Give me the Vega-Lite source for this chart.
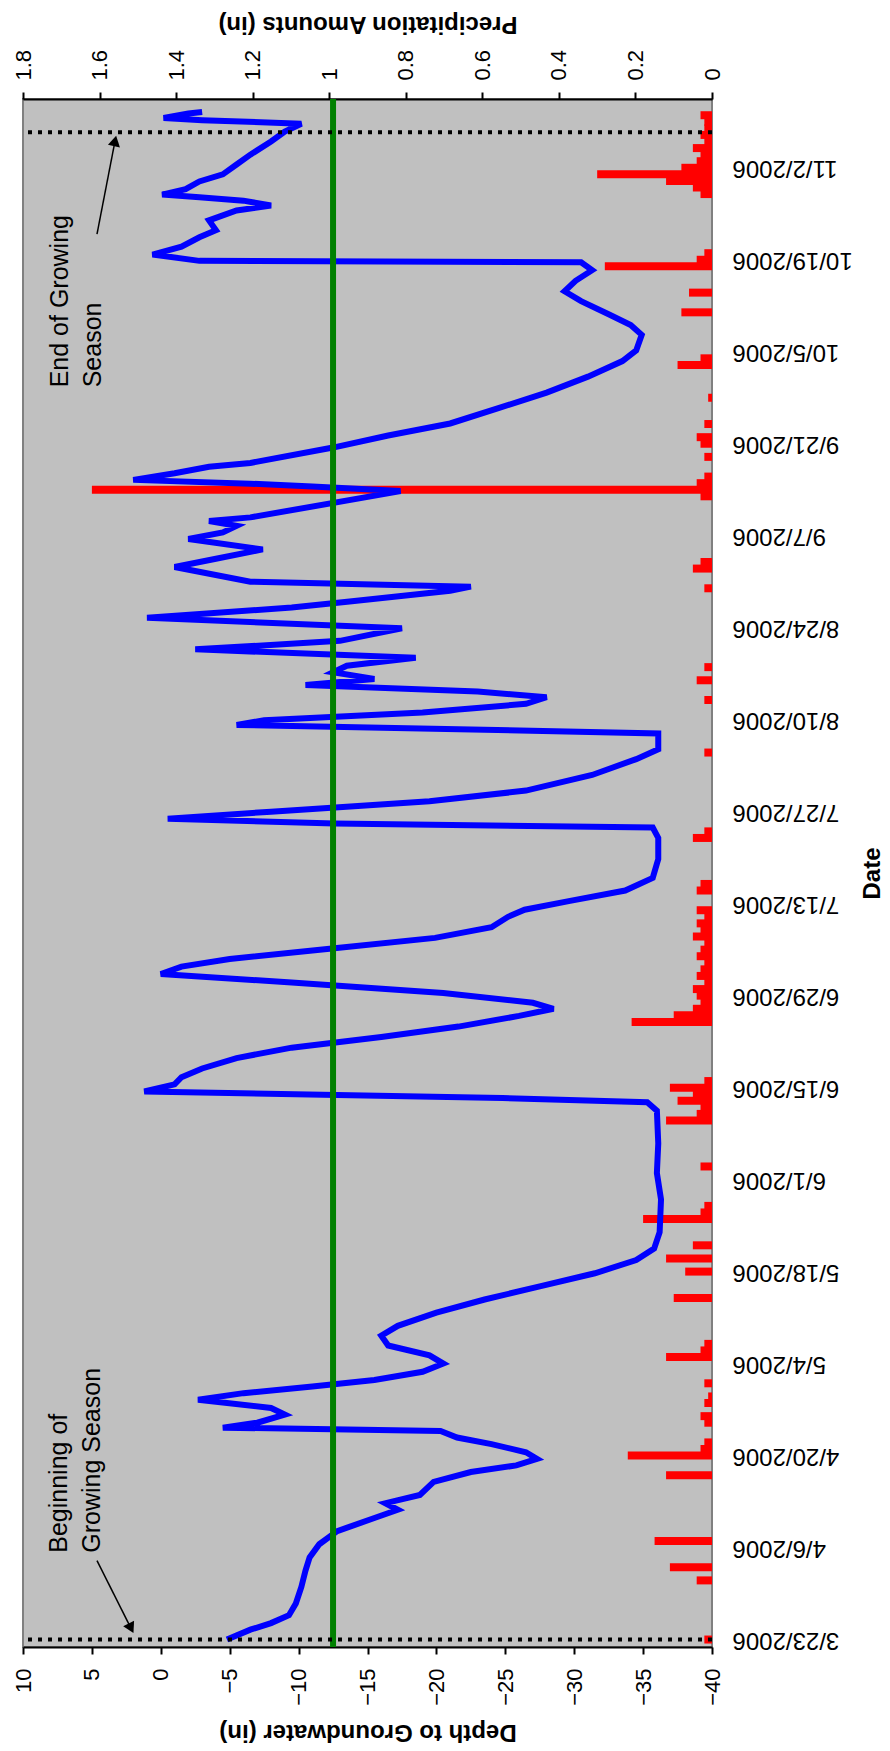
{
  "$schema": "https://vega.github.io/schema/vega-lite/v6.json",
  "width": 689,
  "height": 1548,
  "autosize": {"type": "none"},
  "padding": {"left": 23, "top": 99, "right": 178, "bottom": 104},
  "background": "white",
  "config": {
    "font": "Liberation Sans",
    "view": {"fill": "#C0C0C0", "stroke": "#808080", "strokeWidth": 2},
    "axis": {"grid": false, "domainColor": "black", "tickColor": "black", "labelColor": "black", "titleColor": "black", "labelFont": "Liberation Sans", "titleFont": "Liberation Sans"}
  },
  "datasets": {
    "rain": [
      {"date": "2006-03-23", "precip": 0.02}, {"date": "2006-04-01", "precip": 0.04}, {"date": "2006-04-03", "precip": 0.11},
      {"date": "2006-04-07", "precip": 0.15}, {"date": "2006-04-17", "precip": 0.12}, {"date": "2006-04-20", "precip": 0.22},
      {"date": "2006-04-21", "precip": 0.03}, {"date": "2006-04-22", "precip": 0.02}, {"date": "2006-04-25", "precip": 0.02},
      {"date": "2006-04-26", "precip": 0.03}, {"date": "2006-04-28", "precip": 0.02}, {"date": "2006-04-29", "precip": 0.01},
      {"date": "2006-05-01", "precip": 0.02}, {"date": "2006-05-05", "precip": 0.12}, {"date": "2006-05-06", "precip": 0.03},
      {"date": "2006-05-07", "precip": 0.02}, {"date": "2006-05-14", "precip": 0.10}, {"date": "2006-05-18", "precip": 0.07},
      {"date": "2006-05-20", "precip": 0.12}, {"date": "2006-05-22", "precip": 0.05}, {"date": "2006-05-26", "precip": 0.18},
      {"date": "2006-05-27", "precip": 0.03}, {"date": "2006-05-28", "precip": 0.02}, {"date": "2006-06-03", "precip": 0.03},
      {"date": "2006-06-10", "precip": 0.12}, {"date": "2006-06-11", "precip": 0.04}, {"date": "2006-06-12", "precip": 0.03},
      {"date": "2006-06-13", "precip": 0.09}, {"date": "2006-06-14", "precip": 0.05}, {"date": "2006-06-15", "precip": 0.11},
      {"date": "2006-06-16", "precip": 0.02}, {"date": "2006-06-25", "precip": 0.21}, {"date": "2006-06-26", "precip": 0.10},
      {"date": "2006-06-27", "precip": 0.05}, {"date": "2006-06-28", "precip": 0.03}, {"date": "2006-06-29", "precip": 0.04},
      {"date": "2006-06-30", "precip": 0.05}, {"date": "2006-07-01", "precip": 0.02}, {"date": "2006-07-02", "precip": 0.04},
      {"date": "2006-07-03", "precip": 0.03}, {"date": "2006-07-04", "precip": 0.02}, {"date": "2006-07-05", "precip": 0.04},
      {"date": "2006-07-06", "precip": 0.03}, {"date": "2006-07-07", "precip": 0.02}, {"date": "2006-07-08", "precip": 0.05},
      {"date": "2006-07-09", "precip": 0.03}, {"date": "2006-07-10", "precip": 0.04}, {"date": "2006-07-11", "precip": 0.02},
      {"date": "2006-07-12", "precip": 0.04}, {"date": "2006-07-15", "precip": 0.04}, {"date": "2006-07-16", "precip": 0.03},
      {"date": "2006-07-23", "precip": 0.05}, {"date": "2006-07-24", "precip": 0.02}, {"date": "2006-08-05", "precip": 0.02},
      {"date": "2006-08-13", "precip": 0.02}, {"date": "2006-08-16", "precip": 0.04}, {"date": "2006-08-18", "precip": 0.02},
      {"date": "2006-08-30", "precip": 0.02}, {"date": "2006-09-02", "precip": 0.05}, {"date": "2006-09-03", "precip": 0.03},
      {"date": "2006-09-13", "precip": 0.03}, {"date": "2006-09-14", "precip": 1.62}, {"date": "2006-09-15", "precip": 0.04},
      {"date": "2006-09-16", "precip": 0.02}, {"date": "2006-09-19", "precip": 0.02}, {"date": "2006-09-21", "precip": 0.03},
      {"date": "2006-09-22", "precip": 0.04}, {"date": "2006-09-24", "precip": 0.02}, {"date": "2006-09-28", "precip": 0.01},
      {"date": "2006-10-03", "precip": 0.09}, {"date": "2006-10-04", "precip": 0.03}, {"date": "2006-10-11", "precip": 0.08},
      {"date": "2006-10-14", "precip": 0.06}, {"date": "2006-10-18", "precip": 0.28}, {"date": "2006-10-19", "precip": 0.04},
      {"date": "2006-10-20", "precip": 0.02}, {"date": "2006-10-29", "precip": 0.03}, {"date": "2006-10-30", "precip": 0.05},
      {"date": "2006-10-31", "precip": 0.12}, {"date": "2006-11-01", "precip": 0.30}, {"date": "2006-11-02", "precip": 0.08},
      {"date": "2006-11-03", "precip": 0.04}, {"date": "2006-11-04", "precip": 0.03}, {"date": "2006-11-05", "precip": 0.05},
      {"date": "2006-11-06", "precip": 0.02}, {"date": "2006-11-07", "precip": 0.03}, {"date": "2006-11-08", "precip": 0.02},
      {"date": "2006-11-09", "precip": 0.02}, {"date": "2006-11-10", "precip": 0.03}
    ],
    "gw": [
      {"date": "2006-03-23T00:00Z", "depth": -4.8}, {"date": "2006-03-24T12:00Z", "depth": -6.5}, {"date": "2006-03-25T12:00Z", "depth": -8.0},
      {"date": "2006-03-26T17:00Z", "depth": -9.3}, {"date": "2006-03-28T12:00Z", "depth": -9.8}, {"date": "2006-03-31T00:00Z", "depth": -10.2},
      {"date": "2006-04-02T12:00Z", "depth": -10.5}, {"date": "2006-04-04T12:00Z", "depth": -10.8}, {"date": "2006-04-06T12:00Z", "depth": -11.5},
      {"date": "2006-04-08T12:00Z", "depth": -12.8}, {"date": "2006-04-10T12:00Z", "depth": -15.5}, {"date": "2006-04-11T18:00Z", "depth": -17.2},
      {"date": "2006-04-12T18:00Z", "depth": -16.3}, {"date": "2006-04-14T00:00Z", "depth": -18.8}, {"date": "2006-04-16T00:00Z", "depth": -19.8},
      {"date": "2006-04-17T12:00Z", "depth": -22.5}, {"date": "2006-04-18T12:00Z", "depth": -25.8}, {"date": "2006-04-19T12:00Z", "depth": -27.3},
      {"date": "2006-04-20T12:00Z", "depth": -26.5}, {"date": "2006-04-21T18:00Z", "depth": -24.0}, {"date": "2006-04-22T18:00Z", "depth": -21.5},
      {"date": "2006-04-23T18:00Z", "depth": -20.3}, {"date": "2006-04-24T06:00Z", "depth": -4.5}, {"date": "2006-04-25T00:00Z", "depth": -7.0},
      {"date": "2006-04-26T06:00Z", "depth": -9.0}, {"date": "2006-04-27T06:00Z", "depth": -8.0}, {"date": "2006-04-28T12:00Z", "depth": -2.7},
      {"date": "2006-04-29T12:00Z", "depth": -6.0}, {"date": "2006-04-30T12:00Z", "depth": -11.0}, {"date": "2006-05-01T12:00Z", "depth": -15.5},
      {"date": "2006-05-02T18:00Z", "depth": -19.0}, {"date": "2006-05-04T00:00Z", "depth": -20.5}, {"date": "2006-05-05T06:00Z", "depth": -19.5},
      {"date": "2006-05-06T18:00Z", "depth": -16.5}, {"date": "2006-05-08T06:00Z", "depth": -16.0}, {"date": "2006-05-09T18:00Z", "depth": -17.2},
      {"date": "2006-05-11T18:00Z", "depth": -20.0}, {"date": "2006-05-13T18:00Z", "depth": -23.5}, {"date": "2006-05-15T18:00Z", "depth": -27.5},
      {"date": "2006-05-17T18:00Z", "depth": -31.5}, {"date": "2006-05-19T18:00Z", "depth": -34.5}, {"date": "2006-05-21T12:00Z", "depth": -35.8},
      {"date": "2006-05-24T00:00Z", "depth": -36.2}, {"date": "2006-05-29T00:00Z", "depth": -36.3}, {"date": "2006-06-02T00:00Z", "depth": -36.0},
      {"date": "2006-06-06T12:00Z", "depth": -36.1}, {"date": "2006-06-11T12:00Z", "depth": -36.0}, {"date": "2006-06-12T19:00Z", "depth": -35.3},
      {"date": "2006-06-13T10:00Z", "depth": -24.8}, {"date": "2006-06-14T10:00Z", "depth": 1.2}, {"date": "2006-06-15T12:00Z", "depth": -1.0},
      {"date": "2006-06-16T14:00Z", "depth": -1.5}, {"date": "2006-06-17T22:00Z", "depth": -3.0}, {"date": "2006-06-19T12:00Z", "depth": -5.5},
      {"date": "2006-06-21T02:00Z", "depth": -9.5}, {"date": "2006-06-22T17:00Z", "depth": -16.0}, {"date": "2006-06-24T07:00Z", "depth": -21.6},
      {"date": "2006-06-25T22:00Z", "depth": -26.0}, {"date": "2006-06-27T00:00Z", "depth": -28.5}, {"date": "2006-06-27T22:00Z", "depth": -27.0},
      {"date": "2006-06-29T10:00Z", "depth": -20.5}, {"date": "2006-07-01T00:00Z", "depth": -9.5}, {"date": "2006-07-02T07:00Z", "depth": 0.0},
      {"date": "2006-07-03T10:00Z", "depth": -1.5}, {"date": "2006-07-04T14:00Z", "depth": -5.0}, {"date": "2006-07-06T05:00Z", "depth": -12.6},
      {"date": "2006-07-07T19:00Z", "depth": -19.9}, {"date": "2006-07-09T10:00Z", "depth": -24.0}, {"date": "2006-07-11T00:00Z", "depth": -25.2},
      {"date": "2006-07-12T02:00Z", "depth": -26.4}, {"date": "2006-07-13T10:00Z", "depth": -29.7}, {"date": "2006-07-15T00:00Z", "depth": -33.7},
      {"date": "2006-07-16T22:00Z", "depth": -35.7}, {"date": "2006-07-19T19:00Z", "depth": -36.1}, {"date": "2006-07-23T00:00Z", "depth": -36.1},
      {"date": "2006-07-24T14:00Z", "depth": -35.7}, {"date": "2006-07-25T05:00Z", "depth": -12.6}, {"date": "2006-07-25T22:00Z", "depth": -0.5},
      {"date": "2006-07-27T00:00Z", "depth": -8.0}, {"date": "2006-07-28T14:00Z", "depth": -19.5}, {"date": "2006-07-30T05:00Z", "depth": -26.5},
      {"date": "2006-08-01T14:00Z", "depth": -31.3}, {"date": "2006-08-04T00:00Z", "depth": -34.5}, {"date": "2006-08-05T12:00Z", "depth": -36.1},
      {"date": "2006-08-07T22:00Z", "depth": -36.1}, {"date": "2006-08-08T14:00Z", "depth": -20.7}, {"date": "2006-08-09T05:00Z", "depth": -5.5},
      {"date": "2006-08-09T22:00Z", "depth": -7.5}, {"date": "2006-08-11T02:00Z", "depth": -19.0}, {"date": "2006-08-12T10:00Z", "depth": -26.5},
      {"date": "2006-08-13T10:00Z", "depth": -28.0}, {"date": "2006-08-14T07:00Z", "depth": -23.0}, {"date": "2006-08-15T07:00Z", "depth": -10.5},
      {"date": "2006-08-16T05:00Z", "depth": -15.5}, {"date": "2006-08-17T05:00Z", "depth": -12.5}, {"date": "2006-08-18T05:00Z", "depth": -13.5},
      {"date": "2006-08-19T10:00Z", "depth": -18.5}, {"date": "2006-08-20T17:00Z", "depth": -2.5}, {"date": "2006-08-22T00:00Z", "depth": -13.0},
      {"date": "2006-08-23T22:00Z", "depth": -17.5}, {"date": "2006-08-25T12:00Z", "depth": 1.0}, {"date": "2006-08-27T02:00Z", "depth": -9.5},
      {"date": "2006-08-28T00:00Z", "depth": -13.7}, {"date": "2006-08-29T15:00Z", "depth": -21.0}, {"date": "2006-08-30T06:00Z", "depth": -22.5},
      {"date": "2006-08-31T00:00Z", "depth": -6.5}, {"date": "2006-09-02T06:00Z", "depth": -1.0}, {"date": "2006-09-03T12:00Z", "depth": -4.0},
      {"date": "2006-09-04T22:00Z", "depth": -7.4}, {"date": "2006-09-06T12:00Z", "depth": -2.0}, {"date": "2006-09-07T12:00Z", "depth": -4.5},
      {"date": "2006-09-08T12:00Z", "depth": -5.5}, {"date": "2006-09-09T06:00Z", "depth": -3.5}, {"date": "2006-09-09T19:00Z", "depth": -6.5},
      {"date": "2006-09-13T19:00Z", "depth": -17.4}, {"date": "2006-09-14T12:00Z", "depth": -11.0}, {"date": "2006-09-14T22:00Z", "depth": -6.5},
      {"date": "2006-09-15T12:00Z", "depth": 2.0}, {"date": "2006-09-16T12:00Z", "depth": -1.0}, {"date": "2006-09-17T12:00Z", "depth": -3.5},
      {"date": "2006-09-18T02:00Z", "depth": -6.5}, {"date": "2006-09-20T10:00Z", "depth": -12.5}, {"date": "2006-09-22T06:00Z", "depth": -16.5},
      {"date": "2006-09-24T02:00Z", "depth": -21.0}, {"date": "2006-09-26T10:00Z", "depth": -24.5}, {"date": "2006-09-28T19:00Z", "depth": -28.0},
      {"date": "2006-10-01T05:00Z", "depth": -31.0}, {"date": "2006-10-03T14:00Z", "depth": -33.5}, {"date": "2006-10-05T05:00Z", "depth": -34.5},
      {"date": "2006-10-07T14:00Z", "depth": -34.9}, {"date": "2006-10-09T02:00Z", "depth": -34.1}, {"date": "2006-10-10T17:00Z", "depth": -32.5},
      {"date": "2006-10-12T17:00Z", "depth": -30.5}, {"date": "2006-10-14T05:00Z", "depth": -29.3}, {"date": "2006-10-15T19:00Z", "depth": -30.1},
      {"date": "2006-10-17T10:00Z", "depth": -31.3}, {"date": "2006-10-18T15:00Z", "depth": -30.5}, {"date": "2006-10-18T20:00Z", "depth": -2.8},
      {"date": "2006-10-19T19:00Z", "depth": 0.6}, {"date": "2006-10-21T00:00Z", "depth": -1.5}, {"date": "2006-10-22T10:00Z", "depth": -2.8},
      {"date": "2006-10-23T12:00Z", "depth": -4.0}, {"date": "2006-10-25T00:00Z", "depth": -3.5}, {"date": "2006-10-26T12:00Z", "depth": -5.5},
      {"date": "2006-10-27T06:00Z", "depth": -8.0}, {"date": "2006-10-28T00:00Z", "depth": -6.0}, {"date": "2006-10-28T12:00Z", "depth": -2.8},
      {"date": "2006-10-28T22:00Z", "depth": -0.1}, {"date": "2006-10-29T18:00Z", "depth": -1.8}, {"date": "2006-10-30T22:00Z", "depth": -2.8},
      {"date": "2006-11-01T00:00Z", "depth": -4.5}, {"date": "2006-11-02T12:00Z", "depth": -5.5}, {"date": "2006-11-04T00:00Z", "depth": -6.5},
      {"date": "2006-11-06T00:00Z", "depth": -8.0}, {"date": "2006-11-07T12:00Z", "depth": -9.0}, {"date": "2006-11-08T17:00Z", "depth": -10.2},
      {"date": "2006-11-09T06:00Z", "depth": -3.0}, {"date": "2006-11-09T14:00Z", "depth": -0.2}, {"date": "2006-11-10T06:00Z", "depth": -2.0},
      {"date": "2006-11-10T12:00Z", "depth": -3.0}
    ]
  },
  "resolve": {"scale": {"x": "independent"}},
  "layer": [
    {
      "data": {"name": "rain"},
      "mark": {"type": "bar", "color": "#FF0000", "size": 8},
      "encoding": {
        "y": {
          "field": "date", "type": "temporal", "title": "Date",
          "scale": {"type": "utc", "nice": false, "domain": [{"year": 2006, "month": 3, "date": 22, "hours": 15, "utc": true}, {"year": 2006, "month": 11, "date": 11, "hours": 17, "utc": true}]},
          "axis": {
            "orient": "right", "domain": false, "ticks": false,
            "values": [
              {"year": 2006, "month": 3, "date": 23, "utc": true}, {"year": 2006, "month": 4, "date": 6, "utc": true},
              {"year": 2006, "month": 4, "date": 20, "utc": true}, {"year": 2006, "month": 5, "date": 4, "utc": true},
              {"year": 2006, "month": 5, "date": 18, "utc": true}, {"year": 2006, "month": 6, "date": 1, "utc": true},
              {"year": 2006, "month": 6, "date": 15, "utc": true}, {"year": 2006, "month": 6, "date": 29, "utc": true},
              {"year": 2006, "month": 7, "date": 13, "utc": true}, {"year": 2006, "month": 7, "date": 27, "utc": true},
              {"year": 2006, "month": 8, "date": 10, "utc": true}, {"year": 2006, "month": 8, "date": 24, "utc": true},
              {"year": 2006, "month": 9, "date": 7, "utc": true}, {"year": 2006, "month": 9, "date": 21, "utc": true},
              {"year": 2006, "month": 10, "date": 5, "utc": true}, {"year": 2006, "month": 10, "date": 19, "utc": true},
              {"year": 2006, "month": 11, "date": 2, "utc": true}
            ],
            "labelExpr": "utcFormat(datum.value, '%-m/%-d/%Y')",
            "labelAngle": 180, "labelAlign": "right", "labelBaseline": "middle",
            "labelFontSize": 24, "labelPadding": 20, "labelOverlap": false, "labelFlush": false,
            "titleAngle": 270, "titleBaseline": "top", "titleAlign": "center", "titleFontSize": 24, "titleFontWeight": "bold", "titlePadding": 8
          }
        },
        "x": {
          "field": "precip", "type": "quantitative", "title": "Precipitation Amounts (in)",
          "scale": {"domain": [0, 1.8], "reverse": true, "nice": false, "zero": false},
          "axis": {
            "orient": "top", "values": [0, 0.2, 0.4, 0.6, 0.8, 1, 1.2, 1.4, 1.6, 1.8], "format": "~g",
            "domainWidth": 2, "tickWidth": 2, "tickSize": 7,
            "labelAngle": 270, "labelAlign": "left", "labelBaseline": "middle", "labelFontSize": 22, "labelPadding": 12,
            "labelOverlap": false, "labelFlush": false,
            "titleAngle": 180, "titleBaseline": "top", "titleFontSize": 24, "titleFontWeight": "bold", "titlePadding": 14
          }
        }
      }
    },
    {
      "data": {"name": "gw"},
      "mark": {"type": "line", "color": "#0000FF", "strokeWidth": 6},
      "encoding": {
        "y": {"field": "date", "type": "temporal"},
        "x": {
          "field": "depth", "type": "quantitative", "title": "Depth to Groundwater (in)",
          "scale": {"domain": [-40, 10], "reverse": true, "nice": false, "zero": false},
          "axis": {
            "orient": "bottom", "values": [-40, -35, -30, -25, -20, -15, -10, -5, 0, 5, 10],
            "domainWidth": 2, "tickWidth": 2, "tickSize": 7,
            "labelAngle": 270, "labelAlign": "right", "labelBaseline": "middle", "labelFontSize": 22, "labelPadding": 14,
            "labelOverlap": false, "labelFlush": false,
            "titleAngle": 180, "titleBaseline": "bottom", "titleFontSize": 24, "titleFontWeight": "bold", "titlePadding": 14
          }
        }
      }
    },
    {
      "data": {"values": [{"depth": -12.5}]},
      "mark": {"type": "rule", "color": "#008000", "strokeWidth": 6},
      "encoding": {
        "x": {"field": "depth", "type": "quantitative", "scale": {"domain": [-40, 10], "reverse": true, "nice": false, "zero": false}, "axis": null}
      }
    },
    {
      "data": {"values": [{"date": "2006-03-23T00:00Z"}, {"date": "2006-11-07T10:00Z"}]},
      "mark": {"type": "rule", "color": "black", "strokeWidth": 4, "strokeDash": [4, 6]},
      "encoding": {"y": {"field": "date", "type": "temporal"}}
    },
    {
      "data": {"values": [
        {"label": "Beginning of", "date": "2006-04-05T05:00Z", "depth": 7.4},
        {"label": "Growing Season", "date": "2006-04-05T05:00Z", "depth": 5.0},
        {"label": "End of Growing", "date": "2006-09-29T14:00Z", "depth": 7.3},
        {"label": "Season", "date": "2006-09-29T14:00Z", "depth": 4.9}
      ]},
      "mark": {"type": "text", "angle": 270, "align": "left", "baseline": "middle", "fontSize": 25, "font": "Liberation Sans", "color": "black"},
      "encoding": {
        "y": {"field": "date", "type": "temporal"},
        "x": {"field": "depth", "type": "quantitative", "scale": {"domain": [-40, 10], "reverse": true, "nice": false, "zero": false}, "axis": null},
        "text": {"field": "label"}
      }
    },
    {
      "data": {"values": [
        {"date": "2006-04-04T00:00Z", "date2": "2006-03-24T17:00Z", "depth": 4.63, "depth2": 2.16},
        {"date": "2006-10-22T22:00Z", "date2": "2006-11-06T02:00Z", "depth": 4.63, "depth2": 3.32}
      ]},
      "mark": {"type": "rule", "color": "black", "strokeWidth": 1.5},
      "encoding": {
        "y": {"field": "date", "type": "temporal"},
        "y2": {"field": "date2"},
        "x": {"field": "depth", "type": "quantitative", "scale": {"domain": [-40, 10], "reverse": true, "nice": false, "zero": false}, "axis": null},
        "x2": {"field": "depth2"}
      }
    },
    {
      "data": {"values": [{"date": "2006-03-24T17:00Z", "depth": 2.16}]},
      "mark": {"type": "point", "shape": "triangle-up", "filled": true, "color": "black", "opacity": 1, "size": 150, "angle": 153},
      "encoding": {
        "y": {"field": "date", "type": "temporal"},
        "x": {"field": "depth", "type": "quantitative", "scale": {"domain": [-40, 10], "reverse": true, "nice": false, "zero": false}, "axis": null}
      }
    },
    {
      "data": {"values": [{"date": "2006-11-06T02:00Z", "depth": 3.32}]},
      "mark": {"type": "point", "shape": "triangle-up", "filled": true, "color": "black", "opacity": 1, "size": 150, "angle": 12},
      "encoding": {
        "y": {"field": "date", "type": "temporal"},
        "x": {"field": "depth", "type": "quantitative", "scale": {"domain": [-40, 10], "reverse": true, "nice": false, "zero": false}, "axis": null}
      }
    }
  ]
}
